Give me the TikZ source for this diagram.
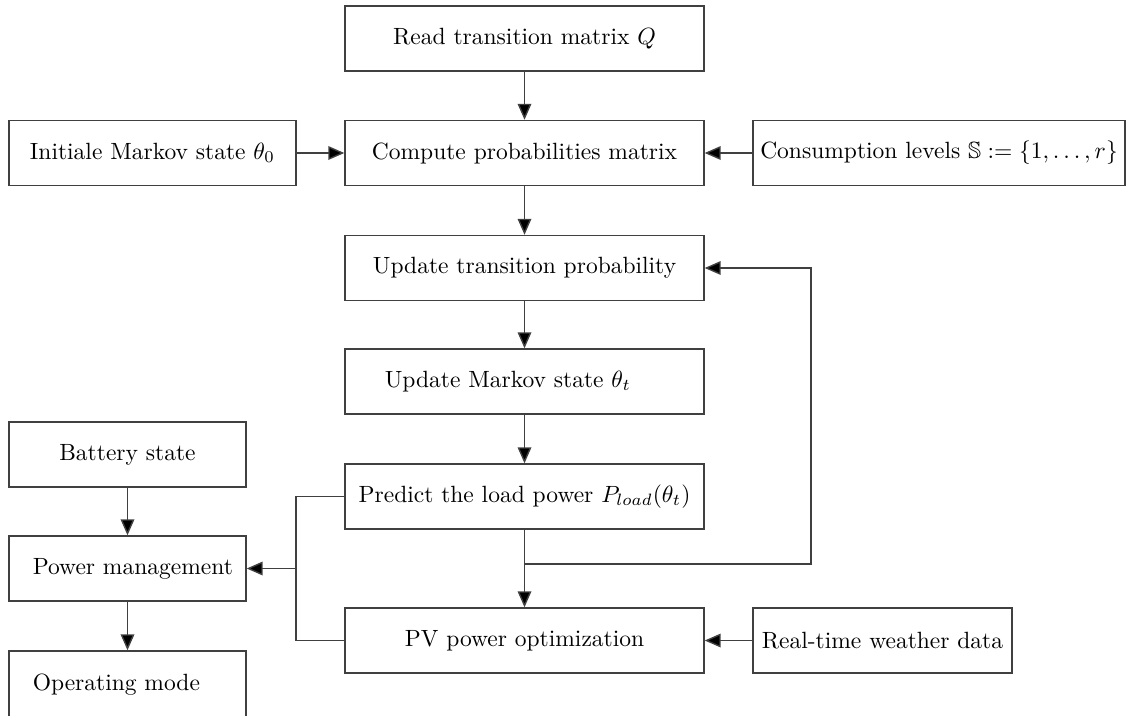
\documentclass[tikz,border=0pt]{standalone}
\usepackage{amsmath,amssymb}
\usetikzlibrary{arrows.meta}

% one drawing unit = one pixel of the final image
\newcommand{\upx}{0.4255pt}

\tikzset{
  box/.style={draw=black!75, line width=0.6pt, fill=white,
    minimum height=65*\upx, inner sep=0pt, font=\normalsize},
  boxtext/.style={anchor=west, inner sep=0pt},
  arr/.style={draw=black!75, line width=0.6pt,
    -{Triangle[length=6.8pt,width=5.8pt,fill=black]}},
  wire/.style={draw=black!75, line width=0.6pt}
}

\begin{document}
\begin{tikzpicture}[x=\upx, y=-\upx]
\useasboundingbox (0,0) rectangle (1127,715);
\clip (0,0) rectangle (1127,715);

% main column
\node[box, minimum width=359*\upx] (read) at (524.5,38.5) {Read transition matrix $Q$};
\node[box, minimum width=359*\upx] (comp) at (524.5,153) {Compute probabilities matrix};
\node[box, minimum width=359*\upx] (upd)  at (524.5,268) {Update transition probability};
\node[box, minimum width=359*\upx] (mark) at (524.5,381.5) {};
\node[boxtext] (markt) at ([xshift=40*\upx]mark.west) {Update Markov state $\theta_t$};
\node[box, minimum width=359*\upx] (pred) at (524.5,496.5) {Predict the load power $P_{load}(\theta_t)$};
\node[box, minimum width=359*\upx] (pv)   at (524.5,640.5) {PV power optimization};

% side inputs
\node[box, minimum width=287*\upx] (init) at (152.5,153) {Initiale Markov state $\theta_0$};
\node[box, minimum width=372*\upx] (cons) at (939,153) {Consumption levels $\mathbb{S} := \{1,\dots,r\}$};
\node[box, minimum width=259*\upx] (rt)   at (882.5,640.5) {Real-time weather data};

% power management column
\node[box, minimum width=237*\upx] (batt) at (127.5,454.5) {Battery state};
\node[box, minimum width=237*\upx] (pm)   at (127.5,568.5) {};
\node[boxtext] (pmt) at ([xshift=24*\upx]pm.west) {Power management};
% the last box runs past the lower edge of the page
\node[box, minimum width=237*\upx, minimum height=80*\upx] (op) at (127.5,691) {};
\node[boxtext] (opt) at ([xshift=24*\upx,yshift=6*\upx]op.west) {Operating mode};

% connectors
\draw[arr] (read) -- (comp);
\draw[arr] (init) -- (comp);
\draw[arr] (cons) -- (comp);
\draw[arr] (comp) -- (upd);
\draw[arr] (upd) -- (mark);
\draw[arr] (mark) -- (pred);
\draw[arr] (pred) -- (pv);
\draw[arr] (rt) -- (pv);

% feedback loop to the transition update
\coordinate (fb) at (811,564);
\draw[arr] (pred.south |- fb) -- (fb) |- (upd.east);

% prediction and PV results feed the power management
\coordinate (bx) at (296,568.5);
\draw[wire] (pred.west) -| (bx) |- (pv.west);
\draw[arr] (bx) -- (pm.east);

\draw[arr] (batt) -- (pm);
\draw[arr] (pm) -- (op);
\end{tikzpicture}
\end{document}
